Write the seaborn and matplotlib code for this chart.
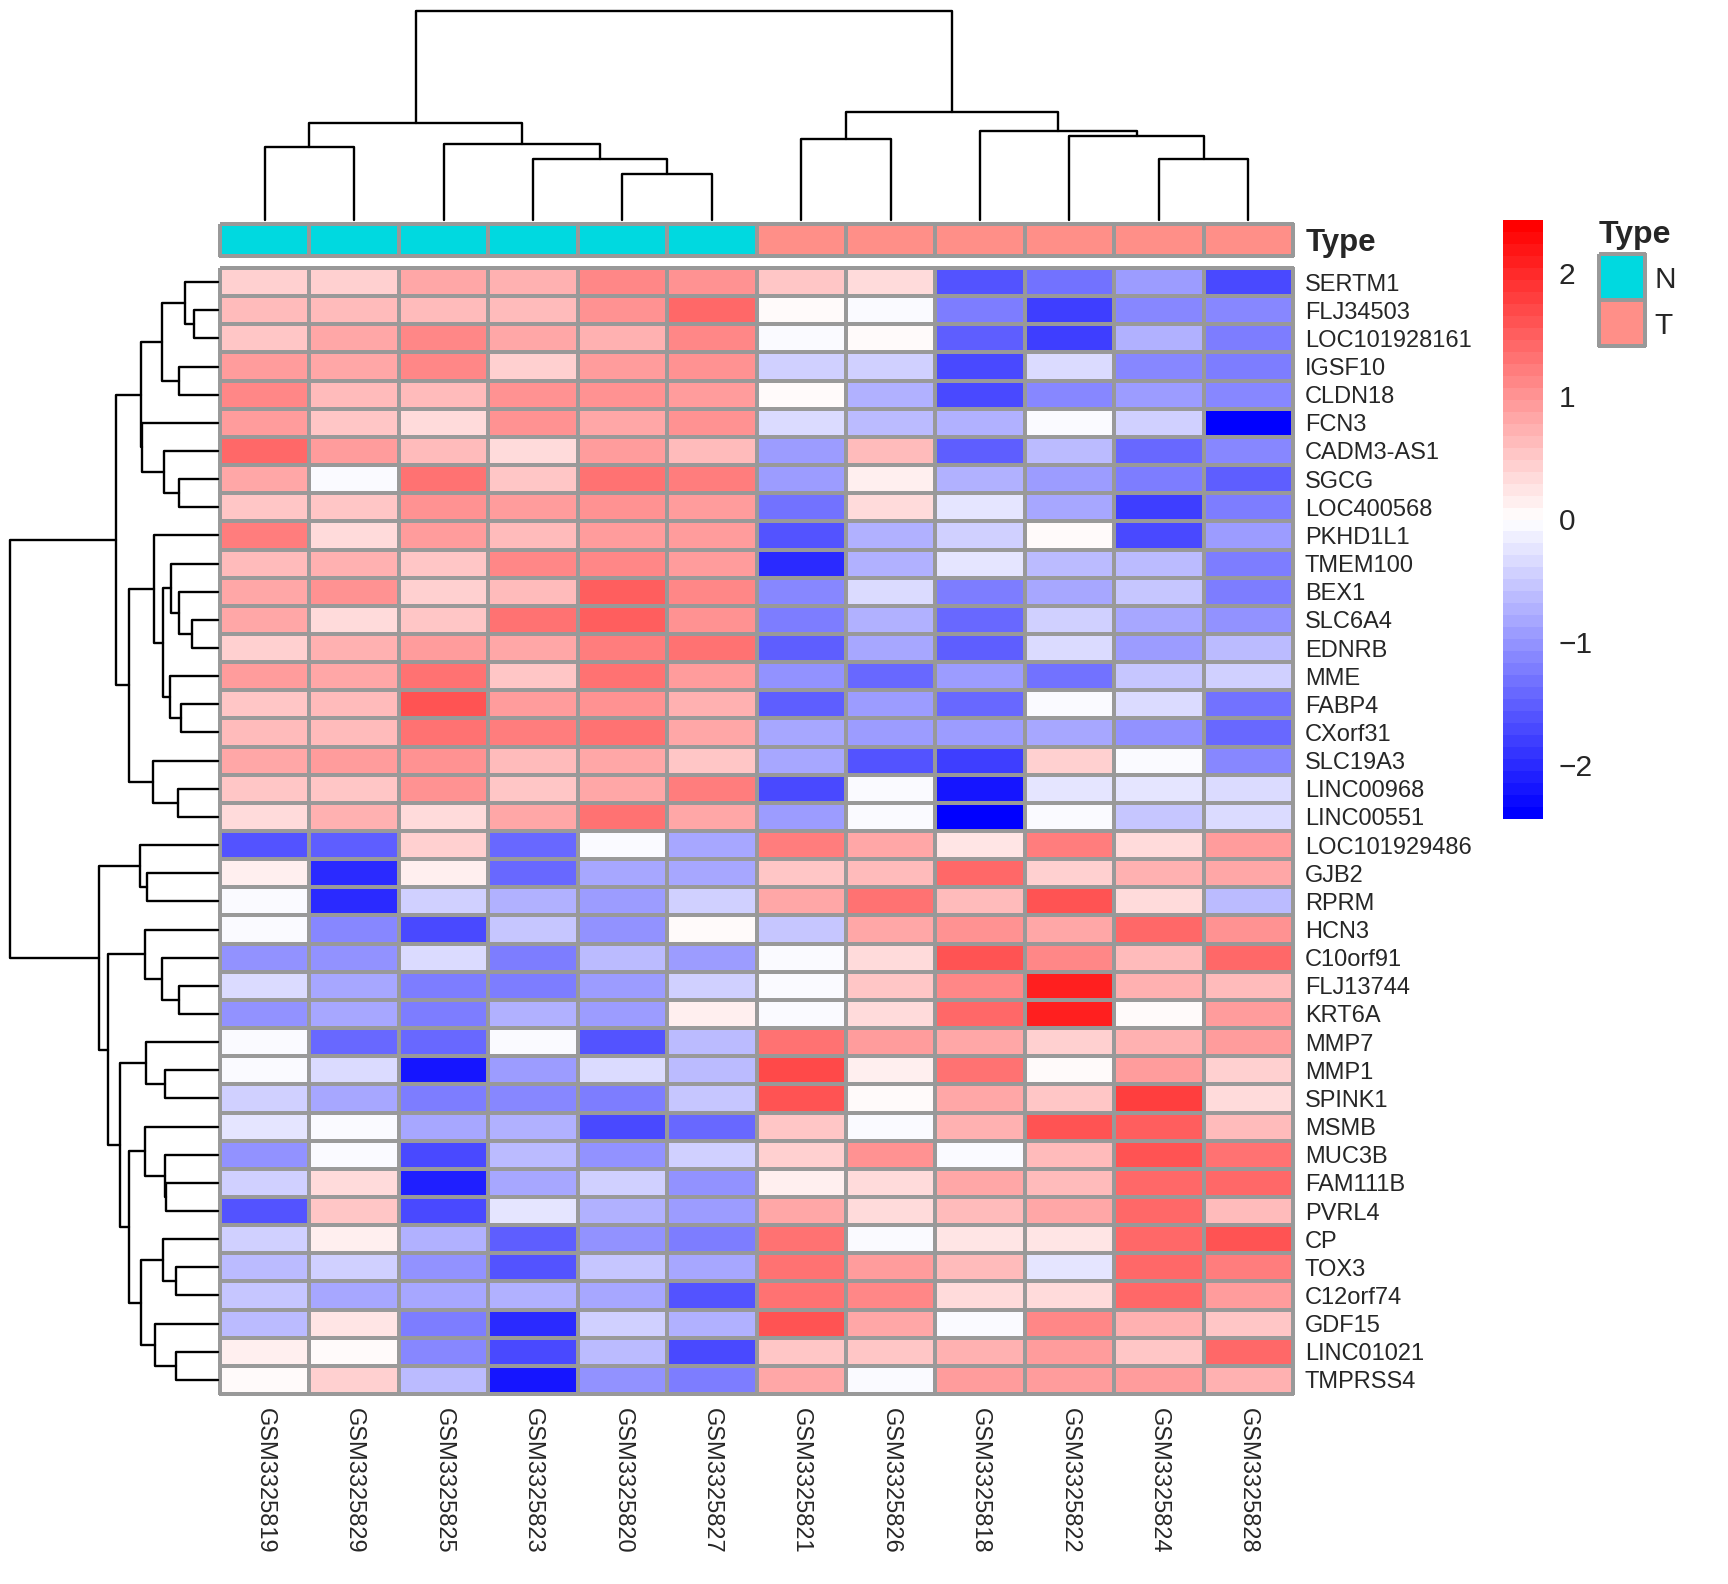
import numpy as np
import pandas as pd
import seaborn as sns
import matplotlib.pyplot as plt
from matplotlib.colors import LinearSegmentedColormap, ListedColormap

genes = ["SERTM1", "FLJ34503", "LOC101928161", "IGSF10", "CLDN18", "FCN3",
         "CADM3-AS1", "SGCG", "LOC400568", "PKHD1L1", "TMEM100", "BEX1",
         "SLC6A4", "EDNRB", "MME", "FABP4", "CXorf31", "SLC19A3", "LINC00968",
         "LINC00551", "LOC101929486", "GJB2", "RPRM", "HCN3", "C10orf91",
         "FLJ13744", "KRT6A", "MMP7", "MMP1", "SPINK1", "MSMB", "MUC3B",
         "FAM111B", "PVRL4", "CP", "TOX3", "C12orf74", "GDF15", "LINC01021",
         "TMPRSS4"]

samples = ["GSM3325819", "GSM3325829", "GSM3325825", "GSM3325823", "GSM3325820",
           "GSM3325827", "GSM3325821", "GSM3325826", "GSM3325818", "GSM3325822",
           "GSM3325824", "GSM3325828"]

sample_type = ["N", "N", "N", "N", "N", "N", "T", "T", "T", "T", "T", "T"]
type_levels = ["N", "T"]
type_colors = ["#00D9E0", "#FF8F88"]

# scaled expression, rows in display order
expr = [
    [0.45, 0.45, 0.85, 0.70, 1.15, 1.05, 0.55, 0.30, -1.60, -1.30, -0.95, -1.70],
    [0.62, 0.62, 0.65, 0.65, 1.05, 1.37, 0.05, -0.10, -1.25, -1.80, -1.15, -1.12],
    [0.55, 0.85, 1.15, 0.85, 0.75, 1.15, -0.05, 0.05, -1.50, -1.80, -0.78, -1.27],
    [0.95, 0.85, 1.15, 0.45, 0.95, 1.05, -0.45, -0.45, -1.75, -0.35, -1.15, -1.27],
    [1.15, 0.65, 0.65, 1.05, 1.05, 0.88, 0.05, -0.75, -1.70, -1.10, -0.90, -1.10],
    [0.95, 0.55, 0.33, 1.05, 0.85, 1.05, -0.38, -0.65, -0.75, -0.08, -0.45, -2.43],
    [1.37, 0.95, 0.63, 0.33, 0.95, 0.63, -0.93, 0.65, -1.50, -0.65, -1.37, -1.15],
    [0.85, -0.05, 1.33, 0.55, 1.33, 1.22, -0.93, 0.10, -0.75, -0.97, -1.18, -1.50],
    [0.55, 0.55, 1.05, 0.88, 1.05, 0.95, -1.33, 0.30, -0.25, -0.88, -1.80, -1.27],
    [1.22, 0.35, 0.95, 0.65, 0.95, 0.95, -1.60, -0.75, -0.45, 0.05, -1.70, -0.93],
    [0.60, 0.75, 0.55, 1.15, 1.15, 0.95, -1.97, -0.75, -0.25, -0.68, -0.68, -1.18],
    [0.85, 1.05, 0.45, 0.65, 1.50, 1.15, -1.15, -0.35, -1.25, -0.88, -0.55, -1.25],
    [0.85, 0.35, 0.55, 1.33, 1.50, 1.05, -1.25, -0.75, -1.37, -0.45, -0.83, -1.05],
    [0.45, 0.75, 0.95, 0.85, 1.22, 1.33, -1.50, -0.88, -1.50, -0.35, -0.90, -0.68],
    [0.95, 0.85, 1.27, 0.55, 1.27, 0.95, -1.05, -1.37, -0.93, -1.33, -0.55, -0.45],
    [0.55, 0.65, 1.60, 0.88, 1.05, 0.75, -1.50, -0.93, -1.37, -0.08, -0.35, -1.33],
    [0.65, 0.65, 1.27, 1.22, 1.27, 0.85, -0.88, -0.97, -0.97, -0.88, -1.05, -1.37],
    [0.85, 0.95, 1.05, 0.65, 0.85, 0.55, -0.88, -1.60, -1.80, 0.45, -0.05, -1.10],
    [0.55, 0.55, 1.05, 0.55, 0.85, 1.22, -1.70, -0.08, -2.20, -0.25, -0.25, -0.35],
    [0.35, 0.75, 0.35, 0.85, 1.33, 0.85, -0.93, -0.08, -2.43, -0.05, -0.55, -0.35],
    [-1.57, -1.50, 0.45, -1.37, -0.08, -0.88, 1.22, 0.85, 0.25, 1.22, 0.35, 0.88],
    [0.10, -1.97, 0.10, -1.37, -0.88, -0.88, 0.55, 0.65, 1.45, 0.45, 0.75, 0.85],
    [-0.05, -1.97, -0.45, -0.75, -0.93, -0.45, 0.85, 1.33, 0.65, 1.65, 0.35, -0.60],
    [-0.08, -1.15, -1.75, -0.55, -1.05, 0.05, -0.55, 0.85, 1.05, 0.85, 1.45, 1.05],
    [-1.05, -1.05, -0.35, -1.18, -0.65, -0.97, -0.08, 0.35, 1.60, 1.15, 0.65, 1.45],
    [-0.35, -0.88, -1.25, -1.25, -0.93, -0.45, -0.08, 0.55, 1.15, 2.10, 0.75, 0.65],
    [-1.05, -0.83, -1.18, -0.75, -0.93, 0.10, -0.08, 0.35, 1.45, 2.10, 0.05, 0.95],
    [-0.05, -1.45, -1.37, -0.05, -1.65, -0.65, 1.33, 0.95, 0.85, 0.45, 0.75, 0.88],
    [-0.05, -0.35, -2.20, -0.97, -0.35, -0.68, 1.70, 0.10, 1.33, 0.08, 0.95, 0.45],
    [-0.45, -0.88, -1.18, -1.15, -1.18, -0.55, 1.60, 0.05, 0.85, 0.55, 1.75, 0.35],
    [-0.25, -0.08, -0.88, -0.78, -1.70, -1.37, 0.55, -0.08, 0.75, 1.60, 1.50, 0.65],
    [-1.05, -0.05, -1.70, -0.68, -1.05, -0.45, 0.45, 1.05, -0.08, 0.65, 1.65, 1.27],
    [-0.45, 0.30, -2.10, -0.88, -0.45, -1.05, 0.10, 0.35, 0.85, 0.65, 1.37, 1.37],
    [-1.65, 0.55, -1.75, -0.25, -0.75, -0.97, 0.85, 0.35, 0.65, 0.85, 1.37, 0.65],
    [-0.45, 0.10, -0.75, -1.50, -1.05, -1.27, 1.33, -0.05, 0.25, 0.25, 1.37, 1.60],
    [-0.68, -0.45, -1.05, -1.65, -0.55, -0.88, 1.27, 0.95, 0.65, -0.25, 1.37, 1.22],
    [-0.55, -0.88, -0.88, -0.78, -0.88, -1.60, 1.33, 1.15, 0.35, 0.35, 1.45, 0.88],
    [-0.68, 0.25, -1.25, -2.00, -0.45, -0.75, 1.60, 0.85, -0.05, 1.15, 0.75, 0.55],
    [0.10, 0.05, -1.15, -1.72, -0.65, -1.75, 0.55, 0.55, 0.75, 0.95, 0.55, 1.45],
    [0.05, 0.45, -0.65, -2.20, -1.05, -1.25, 0.85, -0.05, 0.95, 0.95, 0.95, 0.75],
]

# merges: (left, right, height); ids >= n refer to earlier merges
col_merges = [
    (4, 5, 0.222), (3, 12, 0.294), (0, 1, 0.349), (2, 13, 0.362),
    (14, 15, 0.463), (10, 11, 0.294), (6, 7, 0.389), (9, 17, 0.400),
    (8, 19, 0.425), (18, 20, 0.516), (16, 21, 1.0),
]

row_merges = [
    (1, 2, 0.115), (0, 40, 0.160), (3, 4, 0.189), (41, 42, 0.269),
    (7, 8, 0.189), (6, 44, 0.259), (5, 45, 0.363), (43, 46, 0.368),
    (12, 13, 0.123), (11, 48, 0.189), (10, 49, 0.227), (15, 16, 0.176),
    (14, 51, 0.232), (50, 52, 0.264), (9, 53, 0.309), (18, 19, 0.192),
    (17, 55, 0.312), (54, 56, 0.427), (47, 57, 0.488),
    (21, 22, 0.339), (20, 59, 0.373), (25, 26, 0.189), (24, 61, 0.269),
    (23, 62, 0.349), (28, 29, 0.256), (27, 64, 0.347), (32, 33, 0.248),
    (31, 66, 0.256), (30, 67, 0.349), (35, 36, 0.203), (34, 69, 0.264),
    (38, 39, 0.203), (37, 71, 0.304), (70, 72, 0.368), (68, 73, 0.427),
    (65, 74, 0.472), (63, 75, 0.528), (60, 76, 0.573), (58, 77, 1.0),
]

W, H = 1728, 1584


def box(x0, y0, x1, y1):
    return [x0 / W, 1 - y1 / H, (x1 - x0) / W, (y1 - y0) / H]


def draw_dendro(ax, merges, n, side):
    pos = {i: i + 0.5 for i in range(n)}
    hgt = {i: 0.0 for i in range(n)}
    for k, (a, b, h) in enumerate(merges):
        xs = [pos[a], pos[a], pos[b], pos[b]]
        ys = [hgt[a], h, h, hgt[b]]
        if side == "top":
            ax.plot(xs, ys, color="black", lw=1.7, clip_on=False)
        else:
            ax.plot(ys, xs, color="black", lw=1.7, clip_on=False)
        pos[n + k] = (pos[a] + pos[b]) / 2
        hgt[n + k] = h
    if side == "top":
        ax.set_xlim(0, n)
        ax.set_ylim(0, 1)
    else:
        ax.set_xlim(1, 0)
        ax.set_ylim(n, 0)
    ax.axis("off")


sns.set_style("white")
plt.rcParams['font.family'] = ['Liberation Sans', 'DejaVu Sans']

df = pd.DataFrame(expr, index=genes, columns=samples)
cmap = LinearSegmentedColormap.from_list("bwr50", ["blue", "white", "red"], N=50)
grid = "#999999"

fig = plt.figure(figsize=(W / 100, H / 100), dpi=100)
ax_heat = fig.add_axes(box(220, 268, 1293, 1394))
ax_ann = fig.add_axes(box(220, 224, 1293, 256))
ax_top = fig.add_axes(box(220, 11, 1293, 220))
ax_left = fig.add_axes(box(10, 268, 218, 1394))
ax_cbar = fig.add_axes(box(1503, 220, 1543, 819))
ax_leg = fig.add_axes(box(1599, 254, 1645, 346))

sns.heatmap(df, ax=ax_heat, cmap=cmap, vmin=-2.44, vmax=2.43,
            linewidths=1.5, linecolor=grid, cbar_ax=ax_cbar,
            cbar_kws={"ticks": [-2, -1, 0, 1, 2]},
            xticklabels=samples, yticklabels=genes)
ax_heat.collections[0].set_clip_on(False)
ax_heat.yaxis.tick_right()
ax_heat.set_yticklabels(genes, rotation=0, fontsize=17)
ax_heat.set_xticklabels(samples, rotation=270, fontsize=17)
ax_heat.tick_params(axis="y", length=0, pad=8.5)
ax_heat.tick_params(axis="x", length=0, pad=10)
ax_heat.set_xlabel("")
ax_heat.set_ylabel("")

cbar = ax_heat.collections[0].colorbar
cbar.outline.set_visible(False)
cbar.ax.tick_params(length=0, labelsize=21.5, pad=11.5)

type_codes = np.array([[type_levels.index(t) for t in sample_type]])
ann_cmap = ListedColormap(type_colors)
sns.heatmap(type_codes, ax=ax_ann, cmap=ann_cmap, vmin=0, vmax=1, cbar=False,
            linewidths=1.5, linecolor=grid, xticklabels=False, yticklabels=["Type"])
ax_ann.collections[0].set_clip_on(False)
ax_ann.yaxis.tick_right()
ax_ann.set_yticklabels(["Type"], rotation=0, fontsize=22.5, fontweight="bold")
ax_ann.tick_params(axis="y", length=0, pad=9)

sns.heatmap(np.array([[0], [1]]), ax=ax_leg, cmap=ann_cmap, vmin=0, vmax=1,
            cbar=False, linewidths=1.5, linecolor=grid,
            xticklabels=False, yticklabels=type_levels)
ax_leg.collections[0].set_clip_on(False)
ax_leg.yaxis.tick_right()
ax_leg.set_yticklabels(type_levels, rotation=0, fontsize=21.5)
ax_leg.tick_params(axis="y", length=0, pad=7)
ax_leg.set_title("Type", loc="left", fontsize=23, fontweight="bold", pad=8)

draw_dendro(ax_top, col_merges, len(samples), "top")
draw_dendro(ax_left, row_merges, len(genes), "left")

fig.savefig("out.png", dpi=100, facecolor="white")
